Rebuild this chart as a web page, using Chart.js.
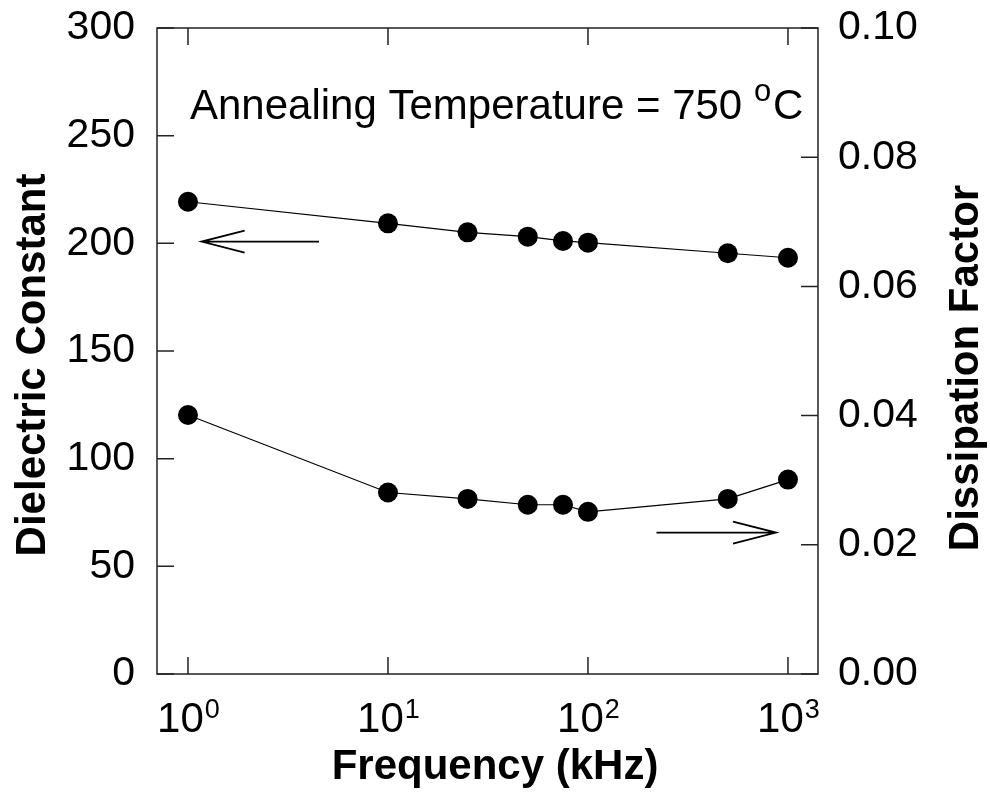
<!DOCTYPE html>
<html lang="en">
<head>
<meta charset="UTF-8">
<title>Dielectric Constant and Dissipation Factor vs Frequency</title>
<script src="https://cdn.jsdelivr.net/npm/chart.js"></script>
<style>
  html, body { margin: 0; padding: 0; background: #fff; }
  canvas { display: block; }
</style>
</head>
<body>
<canvas id="chart" width="990" height="793"></canvas>
<script>
// values
const frequency = [1, 10, 25, 50, 75, 100, 500, 1000];          // kHz
const dielectricConstant = [219.3, 209.3, 205.1, 203.1, 201.1, 200.3, 195.4, 193.3];
const dissipationFactor = [0.0401, 0.0281, 0.0271, 0.0262, 0.0262, 0.0251, 0.0271, 0.0301];
const xTicks = [1, 10, 100, 1000];
const xTickExponents = ['0', '1', '2', '3'];

// arrows showing which axis each curve belongs to: [x from, x to, y]
const leftArrow = [4.52, 1.17, 200.8];
const rightArrow = [220, 871, 0.0219];

const FONT = "Arial, 'Liberation Sans', Helvetica, sans-serif";

function toPoints(ys) {
    return frequency.map((f, i) => ({ x: f, y: ys[i] }));
}

// draws frame, inward ticks, x labels, axis titles, arrows and the note
const decorations = {
    id: 'decorations',
    afterDraw(chart) {
        const { ctx, chartArea: a, scales } = chart;
        const x = scales.x, y = scales.y, y2 = scales.y2;
        const tickLen = 17;
        ctx.save();
        ctx.strokeStyle = '#222';
        ctx.lineWidth = 1.5;
        ctx.strokeRect(a.left, a.top, a.right - a.left, a.bottom - a.top);

        ctx.beginPath();
        xTicks.forEach(v => {
            const px = x.getPixelForValue(v);
            ctx.moveTo(px, a.bottom); ctx.lineTo(px, a.bottom - tickLen);
            ctx.moveTo(px, a.top); ctx.lineTo(px, a.top + tickLen);
        });
        y.ticks.forEach(t => {
            const py = y.getPixelForValue(t.value);
            ctx.moveTo(a.left, py); ctx.lineTo(a.left + tickLen, py);
        });
        y2.ticks.forEach(t => {
            const py = y2.getPixelForValue(t.value);
            ctx.moveTo(a.right, py); ctx.lineTo(a.right - tickLen, py);
        });
        ctx.stroke();

        // x tick labels as 10^n
        ctx.fillStyle = '#000';
        ctx.textBaseline = 'alphabetic';
        ctx.textAlign = 'left';
        xTicks.forEach((v, i) => {
            const px = x.getPixelForValue(v);
            ctx.font = '42px ' + FONT;
            const wBase = ctx.measureText('10').width;
            ctx.font = '27px ' + FONT;
            const wExp = ctx.measureText(xTickExponents[i]).width;
            const start = px - (wBase + wExp) / 2;
            ctx.font = '42px ' + FONT;
            ctx.fillText('10', start, a.bottom + 58);
            ctx.font = '27px ' + FONT;
            ctx.fillText(xTickExponents[i], start + wBase + 1, a.bottom + 44);
        });

        // axis titles
        ctx.font = 'bold 42px ' + FONT;
        ctx.textAlign = 'center';
        ctx.textBaseline = 'middle';
        ctx.fillText('Frequency (kHz)', 495, a.bottom + 93);

        ctx.save();
        ctx.translate(33, 365);
        ctx.rotate(-Math.PI / 2);
        ctx.fillText('Dielectric Constant', 0, 0);
        ctx.restore();

        ctx.save();
        ctx.translate(966, 368);
        ctx.rotate(-Math.PI / 2);
        ctx.fillText('Dissipation Factor', 0, 0);
        ctx.restore();

        // annotation
        ctx.textAlign = 'left';
        ctx.textBaseline = 'alphabetic';
        ctx.font = '42px ' + FONT;
        const note = 'Annealing Temperature = 750 ';
        const nx = 190, ny = 119;
        ctx.fillText(note, nx, ny);
        const wNote = ctx.measureText(note).width;
        ctx.font = '31px ' + FONT;
        ctx.fillText('o', nx + wNote, ny - 18);
        const wO = ctx.measureText('o').width;
        ctx.font = '42px ' + FONT;
        ctx.fillText('C', nx + wNote + wO + 2, ny);

        // arrows
        function arrow(x0, x1, py, dir) {
            const p0 = x.getPixelForValue(x0), p1 = x.getPixelForValue(x1);
            ctx.beginPath();
            ctx.lineWidth = 1.8;
            ctx.strokeStyle = '#000';
            ctx.moveTo(p0, py); ctx.lineTo(p1, py);
            ctx.moveTo(p1 - dir * 43, py - 11); ctx.lineTo(p1, py); ctx.lineTo(p1 - dir * 43, py + 11);
            ctx.stroke();
        }
        arrow(leftArrow[0], leftArrow[1], y.getPixelForValue(leftArrow[2]), -1);
        arrow(rightArrow[0], rightArrow[1], y2.getPixelForValue(rightArrow[2]), 1);
        ctx.restore();
    }
};

// keep the plot box fixed: no extra room for overhanging tick labels
function fixPadding(s) {
    s.paddingTop = 0;
    s.paddingBottom = 0;
    s.paddingLeft = 0;
    s.paddingRight = 0;
}

new Chart(document.getElementById('chart'), {
    type: 'scatter',
    data: {
        datasets: [{
            label: 'Dielectric Constant',
            data: toPoints(dielectricConstant),
            yAxisID: 'y',
            showLine: true,
            borderColor: '#000',
            borderWidth: 1.2,
            backgroundColor: '#000',
            pointRadius: 10,
            pointBorderWidth: 0
        }, {
            label: 'Dissipation Factor',
            data: toPoints(dissipationFactor),
            yAxisID: 'y2',
            showLine: true,
            borderColor: '#000',
            borderWidth: 1.2,
            backgroundColor: '#000',
            pointRadius: 10,
            pointBorderWidth: 0
        }]
    },
    options: {
        responsive: false,
        animation: false,
        layout: { padding: { top: 28, left: 0, right: 0, bottom: 0 } },
        plugins: { legend: { display: false }, tooltip: { enabled: false } },
        scales: {
            x: {
                type: 'logarithmic',
                min: 0.7,
                max: 1413,
                grid: { display: false },
                border: { display: false },
                ticks: { display: false },
                afterBuildTicks: s => { s.ticks = xTicks.map(v => ({ value: v })); },
                afterFit: s => { s.height = 119; fixPadding(s); }
            },
            y: {
                position: 'left',
                min: 0,
                max: 300,
                grid: { display: false },
                border: { display: false },
                ticks: {
                    stepSize: 50,
                    padding: 14,
                    color: '#000',
                    font: { family: FONT, size: 41 }
                },
                afterFit: s => { s.width = 157; fixPadding(s); }
            },
            y2: {
                position: 'right',
                min: 0,
                max: 0.1,
                grid: { display: false },
                border: { display: false },
                ticks: {
                    stepSize: 0.02,
                    padding: 12,
                    color: '#000',
                    font: { family: FONT, size: 41 },
                    callback: v => v.toFixed(2)
                },
                afterFit: s => { s.width = 172; fixPadding(s); }
            }
        }
    },
    plugins: [decorations]
});
</script>
</body>
</html>
